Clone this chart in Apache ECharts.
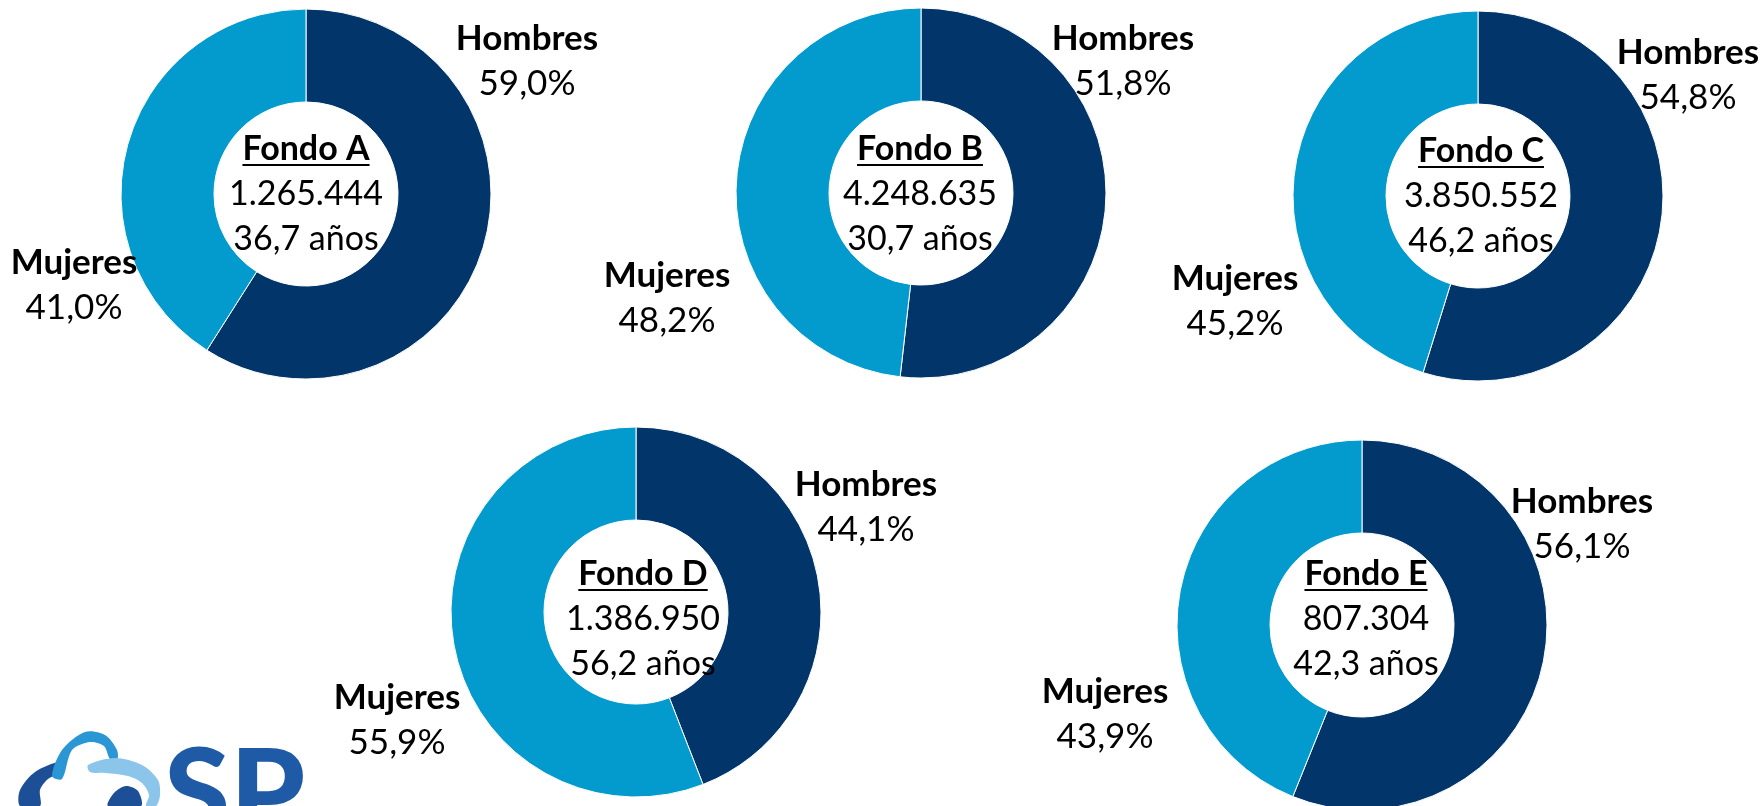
<!DOCTYPE html>
<html>
<head>
<meta charset="utf-8">
<script src="https://cdn.jsdelivr.net/npm/echarts@6/dist/echarts.min.js"></script>
<style>
  html, body { margin: 0; padding: 0; background: #fff; }
  #main { width: 1762px; height: 806px; }
</style>
</head>
<body>
<div id="main"></div>
<script>
// datos por fondo
const fondos = ['Fondo A', 'Fondo B', 'Fondo C', 'Fondo D', 'Fondo E'];
const sexos = ['Hombres', 'Mujeres'];
const hombres = [59.0, 51.8, 54.8, 44.1, 56.1];
const mujeres = [41.0, 48.2, 45.2, 55.9, 43.9];
const afiliados = [1265444, 4248635, 3850552, 1386950, 807304];
const edadPromedio = [36.7, 30.7, 46.2, 56.2, 42.3];

// disposicion (px)
const centros = [[306, 194], [921, 193], [1478, 196], [636, 612], [1362, 625]];
const centrosTexto = [[306, 194], [920, 194], [1481, 196], [643, 619], [1366, 619]];
const offHombres = [[221, -133], [202, -132], [210, -121], [230, -105], [220, -101]];
const offMujeres = [[-232, 91], [-254, 105], [-243, 105], [-239, 108], [-257, 89]];

const colores = ['#02366A', '#039BCD'];
const FONT = 'Lato';
const SIZE = 34;
const SIZE_ETQ = 35;
const LH = 45;

const fmtMiles = n => String(n).replace(/\B(?=(\d{3})+(?!\d))/g, '.');
const fmtDec = v => v.toFixed(1).replace('.', ',');

const el = document.getElementById('main');
const myChart = echarts.init(el);

// medir ancho para el subrayado
const ctx = document.createElement('canvas').getContext('2d');
ctx.font = 'bold ' + SIZE + 'px ' + FONT;

const series = fondos.map((f, i) => ({
  type: 'pie',
  name: f,
  center: centros[i],
  radius: [92, 185],
  startAngle: 90,
  clockwise: true,
  silent: true,
  avoidLabelOverlap: false,
  itemStyle: { borderColor: '#fff', borderWidth: 1 },
  label: {
    show: true,
    formatter: p => '{n|' + p.name + '}\n{v|' + fmtDec(p.value) + '%}',
    rich: {
      n: { fontFamily: FONT, fontWeight: 'bold', fontSize: SIZE_ETQ, lineHeight: LH, color: '#000' },
      v: { fontFamily: FONT, fontSize: SIZE_ETQ, lineHeight: LH, color: '#000' }
    }
  },
  labelLine: { show: false },
  labelLayout: p => {
    const off = p.dataIndex === 0 ? offHombres[i] : offMujeres[i];
    return { x: centros[i][0] + off[0], y: centros[i][1] + off[1], align: 'center', verticalAlign: 'middle' };
  },
  data: [
    { name: sexos[0], value: hombres[i], itemStyle: { color: colores[0] } },
    { name: sexos[1], value: mujeres[i], itemStyle: { color: colores[1] } }
  ]
}));

// textos centrales
const graphic = [];
fondos.forEach((f, i) => {
  const [cx, cy] = centrosTexto[i];
  const lineas = [f, fmtMiles(afiliados[i]), fmtDec(edadPromedio[i]) + ' años'];
  lineas.forEach((t, k) => {
    graphic.push({
      type: 'text', x: cx, y: cy + (k - 1) * LH, silent: true, z: 10,
      style: {
        text: t, align: 'center', verticalAlign: 'middle', fill: '#000',
        font: (k === 0 ? 'bold ' : '') + SIZE + 'px ' + FONT
      }
    });
  });
  const w = ctx.measureText(f).width;
  graphic.push({
    type: 'rect', silent: true, z: 10,
    shape: { x: cx - w / 2, y: cy - LH + 15, width: w, height: 2 },
    style: { fill: '#000' }
  });
});

// logo (aproximado)
graphic.push({
  type: 'group', silent: true,
  children: [
    { type: 'polygon', shape: { smooth: 0.3, points: [[60, 762], [35, 772], [20, 790], [20, 806], [40, 806], [40, 790], [48, 779], [62, 771]] }, style: { fill: '#1c4f95' } },
    { type: 'polygon', shape: { smooth: 0.3, points: [[52, 776], [62, 750], [85, 732], [105, 735], [117, 750], [117, 761], [110, 759], [104, 746], [90, 742], [72, 750], [62, 779]] }, style: { fill: '#2a96d3' } },
    { type: 'polygon', shape: { smooth: 0.3, points: [[88, 765], [115, 758], [142, 765], [158, 780], [160, 795], [156, 806], [146, 806], [149, 795], [142, 783], [128, 776], [105, 773], [90, 772]] }, style: { fill: '#8cc5ea' } },
    { type: 'polygon', shape: { smooth: 0.3, points: [[108, 806], [114, 793], [126, 786], [138, 791], [141, 806]] }, style: { fill: '#1c4f95' } },
    { type: 'text', x: 164, y: 796, style: { text: 'SP', font: '900 120px ' + FONT, fill: '#1f5aa6', verticalAlign: 'middle' } }
  ]
});

const option = {
  animation: false,
  backgroundColor: '#fff',
  series: series,
  graphic: graphic
};
myChart.setOption(option);
</script>
</body>
</html>
